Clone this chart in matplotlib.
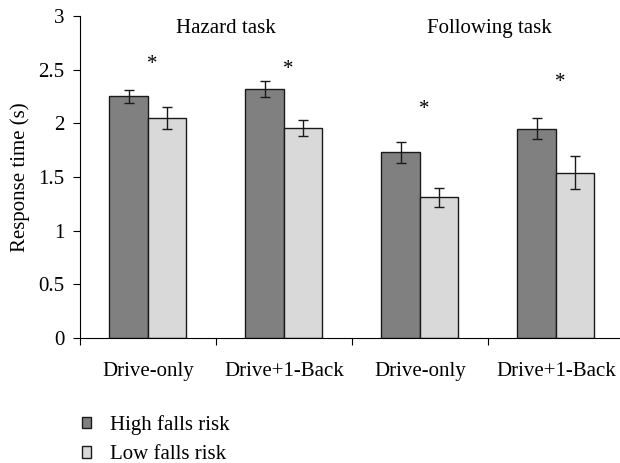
import matplotlib.pyplot as plt
import numpy as np
from matplotlib.patches import Patch

plt.rcParams['font.family'] = ['Liberation Serif', 'DejaVu Serif']

# data
conditions = ['Drive-only', 'Drive+1-Back', 'Drive-only', 'Drive+1-Back']
high_risk = [2.25, 2.32, 1.73, 1.95]
high_err = [0.065, 0.075, 0.10, 0.10]
low_risk = [2.05, 1.96, 1.31, 1.54]
low_err = [0.10, 0.075, 0.09, 0.155]
star_y = [2.59, 2.54, 2.17, 2.42]
task_names = ['Hazard task', 'Following task']

fs = 15

fig = plt.figure(figsize=(6.2, 4.63), dpi=100)
ax = fig.add_axes([0.129, 0.27, 0.877, 0.6955])

x = np.arange(len(conditions))
w = 0.283
ax.bar(x - w / 2, high_risk, w, color='#808080', edgecolor='#1a1a1a', linewidth=1,
       yerr=high_err, capsize=3.5, error_kw=dict(elinewidth=1, capthick=1, ecolor='#1a1a1a'),
       label='High falls risk')
ax.bar(x + w / 2, low_risk, w, color='#d9d9d9', edgecolor='#1a1a1a', linewidth=1,
       yerr=low_err, capsize=3.5, error_kw=dict(elinewidth=1, capthick=1, ecolor='#1a1a1a'),
       label='Low falls risk')

# significance stars
for xi, sy in zip(x, star_y):
    ax.text(xi + 0.03, sy - 0.08, '*', ha='center', va='baseline', fontsize=fs)

# task headings
ax.text(0.57, 2.88, task_names[0], ha='center', va='center', fontsize=fs)
ax.text(2.51, 2.88, task_names[1], ha='center', va='center', fontsize=fs)

ax.set_xlim(-0.5, 3.5)
ax.set_ylim(0, 3)
ax.set_yticks(np.arange(0, 3.01, 0.5))
ax.set_yticklabels(['0', '0.5', '1', '1.5', '2', '2.5', '3'])
ax.set_xticks([-0.5, 0.5, 1.5, 2.5])
ax.set_xticklabels([])
ax.set_xticks(x, minor=True)
ax.set_xticklabels(conditions, minor=True)
ax.tick_params(axis='x', which='minor', length=0, pad=17, labelsize=fs)
ax.tick_params(axis='x', which='major', length=5, direction='out')
ax.tick_params(axis='y', length=5, direction='out', labelsize=fs, pad=6)
ax.set_ylabel('Response time (s)', fontsize=fs, labelpad=6)
ax.spines['top'].set_visible(False)
ax.spines['right'].set_visible(False)

handles = [Patch(facecolor='#808080', edgecolor='#1a1a1a', label='High falls risk'),
           Patch(facecolor='#d9d9d9', edgecolor='#1a1a1a', label='Low falls risk')]
fig.legend(handles=handles, loc='upper left', bbox_to_anchor=(0.115, 0.126),
           frameon=False, fontsize=fs, handlelength=0.45, handleheight=0.45,
           handletextpad=0.9, labelspacing=0.5, borderpad=0)

fig.savefig('out.png', dpi=100)
